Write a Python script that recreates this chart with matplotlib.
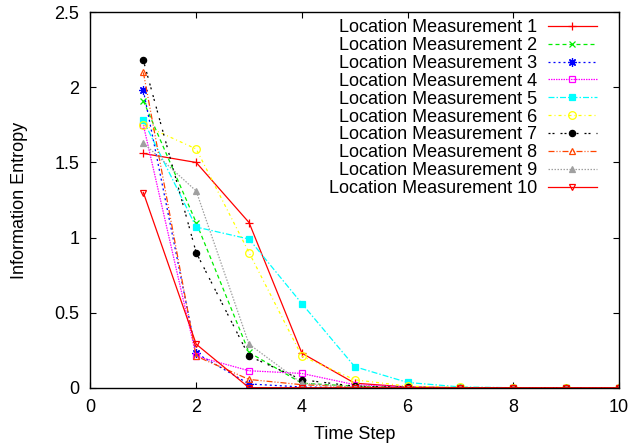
import matplotlib
matplotlib.use("Agg")
import matplotlib.pyplot as plt

plt.rcParams['font.family'] = ['Liberation Sans', 'DejaVu Sans']
plt.rcParams['lines.scale_dashes'] = False

steps = [1, 2, 3, 4, 5, 6, 7, 8, 9, 10]
labels = ["Location Measurement %d" % i for i in range(1, 11)]
s1 = [1.56, 1.50, 1.10, 0.23, 0.03, 0.005, 0.0, 0.0, 0.0, 0.0]
s2 = [1.91, 1.10, 0.235, 0.03, 0.01, 0.003, 0.0, 0.0, 0.0, 0.0]
s3 = [1.98, 0.23, 0.025, 0.005, 0.0, 0.0, 0.0, 0.0, 0.0, 0.0]
s4 = [1.75, 0.21, 0.113, 0.095, 0.02, 0.005, 0.0, 0.0, 0.0, 0.0]
s5 = [1.78, 1.07, 0.99, 0.56, 0.14, 0.035, 0.005, 0.0, 0.0, 0.0]
s6 = [1.75, 1.59, 0.90, 0.21, 0.053, 0.01, 0.002, 0.0, 0.0, 0.0]
s7 = [2.18, 0.90, 0.21, 0.053, 0.01, 0.002, 0.0, 0.0, 0.0, 0.0]
s8 = [2.10, 0.21, 0.055, 0.02, 0.005, 0.0, 0.0, 0.0, 0.0, 0.0]
s9 = [1.63, 1.31, 0.29, 0.03, 0.005, 0.0, 0.0, 0.0, 0.0, 0.0]
s10 = [1.30, 0.29, 0.0, 0.0, 0.0, 0.0, 0.0, 0.0, 0.0, 0.0]
series = [s1, s2, s3, s4, s5, s6, s7, s8, s9, s10]

px = 0.72  # points per pixel at dpi 100
styles = [
    dict(color='#ff0000', marker='+', ms=6, mfc='#ff0000', dashes=None),
    dict(color='#00ee00', marker='x', ms=5, mfc='#00ee00', dashes=(4, 3)),
    dict(color='#0000ff', marker=(8, 2, 0), ms=6, mfc='#0000ff', dashes=(2, 3)),
    dict(color='#ff00ff', marker='s', ms=5, mfc='none', dashes=(1.5, 1)),
    dict(color='#00ffff', marker='s', ms=5, mfc='#00ffff', dashes=(6, 2, 1.5, 2)),
    dict(color='#ffff00', marker='o', ms=5.5, mfc='none', dashes=(3, 3, 1, 3)),
    dict(color='#000000', marker='o', ms=4.5, mfc='#000000', dashes=(2, 2, 2, 6)),
    dict(color='#ff4500', marker='^', ms=5, mfc='none', dashes=(6, 2, 1, 2, 1, 2)),
    dict(color='#a0a0a0', marker='^', ms=4.5, mfc='#a0a0a0', dashes=(1.5, 1.5)),
    dict(color='#ff0000', marker='v', ms=5, mfc='none', dashes=None),
]

fig = plt.figure(figsize=(6.31, 4.43), dpi=100)
ax = fig.add_axes([0.1434, 0.1248, 0.981 - 0.1434, 0.9722 - 0.1248])

for vals, lab, st in zip(series, labels, styles):
    kw = dict(color=st['color'], marker=st['marker'], markersize=st['ms'],
              markerfacecolor=st['mfc'], markeredgecolor=st['color'],
              markeredgewidth=0.9, linewidth=0.9, label=lab)
    line, = ax.plot(steps, vals, **kw)
    if st['dashes'] is not None:
        line.set_dashes([d * px for d in st['dashes']])

ax.set_xlim(0, 10)
ax.set_ylim(0, 2.5)
ax.set_xticks([0, 2, 4, 6, 8, 10])
ax.set_yticks([0, 0.5, 1, 1.5, 2, 2.5])
ax.set_yticklabels(['0', '0.5', '1', '1.5', '2', '2.5'])
ax.tick_params(direction='in', length=4.5, width=0.8, top=True, right=True,
               labelsize=13, pad=8)
for sp in ax.spines.values():
    sp.set_linewidth(1.0)
ax.set_xlabel('Time Step', fontsize=13, labelpad=7)
ax.set_ylabel('Information Entropy', fontsize=13, labelpad=19)

leg = ax.legend(loc='upper right', bbox_to_anchor=(0.958, 0.982),
                fontsize=13, frameon=False, markerfirst=False,
                handlelength=2.72, handletextpad=0.6, labelspacing=0.05,
                borderpad=0, borderaxespad=0)

fig.savefig('out.png', dpi=100)
